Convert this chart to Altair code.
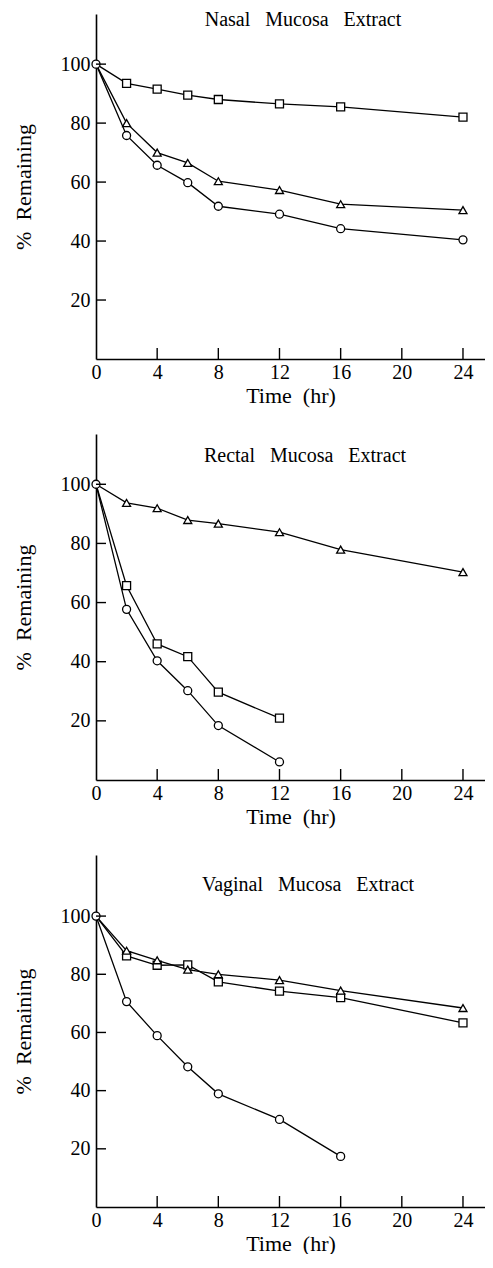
import altair as alt
import pandas as pd

# ---------------- data ----------------
X_TICKS = [4, 8, 12, 16, 20, 24]
X_LABELS = [0, 4, 8, 12, 16, 20, 24]
Y_TICKS = [20, 40, 60, 80, 100]

# Nasal mucosa extract
nasal_t_A = [0, 2, 4, 6, 8, 12, 16, 24]
nasal_A = [100, 75.8, 65.7, 59.8, 51.8, 49.1, 44.2, 40.4]      # circles
nasal_t_B = [0, 2, 4, 6, 8, 12, 16, 24]
nasal_B = [100, 93.5, 91.5, 89.5, 88.0, 86.5, 85.5, 82.0]      # squares
nasal_t_C = [0, 2, 4, 6, 8, 12, 16, 24]
nasal_C = [100, 80.0, 70.0, 66.5, 60.3, 57.3, 52.5, 50.5]      # triangles

# Rectal mucosa extract
rectal_t_A = [0, 2, 4, 6, 8, 12]
rectal_A = [100, 57.7, 40.3, 30.2, 18.4, 6.1]
rectal_t_B = [0, 2, 4, 6, 8, 12]
rectal_B = [100, 65.7, 46.0, 41.7, 29.7, 20.9]
rectal_t_C = [0, 2, 4, 6, 8, 12, 16, 24]
rectal_C = [100, 93.7, 91.9, 87.9, 86.7, 83.8, 77.9, 70.3]

# Vaginal mucosa extract
vaginal_t_A = [0, 2, 4, 6, 8, 12, 16]
vaginal_A = [100, 70.6, 58.9, 48.2, 38.9, 30.1, 17.4]
vaginal_t_B = [0, 2, 4, 6, 8, 12, 16, 24]
vaginal_B = [100, 86.3, 83.1, 83.2, 77.4, 74.2, 72.0, 63.3]
vaginal_t_C = [0, 2, 4, 6, 8, 12, 16, 24]
vaginal_C = [100, 88.1, 84.8, 81.6, 80.0, 78.0, 74.4, 68.4]

PANEL_TITLES = ["Nasal   Mucosa   Extract", "Rectal   Mucosa   Extract",
                "Vaginal   Mucosa   Extract"]
X_TITLE = "Time  (hr)"
Y_TITLE = "%  Remaining"

SERIES = ["A", "B", "C"]
SHAPES = ["circle", "square", "triangle-up"]

FONT = "Liberation Serif"
W = 389
XMAX = 25.44


def make_df(tA, A, tB, B, tC, C):
    rows = []
    for s, ts, vs in (("A", tA, A), ("B", tB, B), ("C", tC, C)):
        for t, v in zip(ts, vs):
            rows.append({"s": s, "t": t, "v": v})
    return pd.DataFrame(rows)


def nb(s):
    return s.replace(" ", "\u00a0")


def panel(df, title, H, ymax, tx, ty):
    xs = alt.Scale(domain=[0, XMAX], nice=False, zero=False)
    ys = alt.Scale(domain=[0, ymax], nice=False, zero=False)
    x = alt.X("t:Q", scale=xs,
              axis=alt.Axis(values=X_LABELS, title=nb(X_TITLE), labelPadding=3,
                            titlePadding=3, labelFlush=False))
    y = alt.Y("v:Q", scale=ys,
              axis=alt.Axis(values=Y_TICKS, title=nb(Y_TITLE), labelPadding=6,
                            titlePadding=25))
    base = alt.Chart(df)
    lines = base.mark_line(color="black", strokeWidth=1.3).encode(
        x=x, y=y, detail="s:N")
    pts = base.transform_filter("datum.t > 0 || datum.s == 'A'").mark_point(
        filled=True, fill="white", stroke="black", strokeWidth=1.3, size=64,
        opacity=1).encode(
        x=alt.X("t:Q", scale=xs), y=alt.Y("v:Q", scale=ys),
        shape=alt.Shape("s:N", scale=alt.Scale(domain=SERIES, range=SHAPES),
                        legend=None))
    xt = alt.Chart(pd.DataFrame({"t": X_TICKS})).mark_rule(
        color="black", strokeWidth=1.4).encode(
        x=alt.X("t:Q", scale=xs), y=alt.value(H), y2=alt.value(H - 11))
    yt = alt.Chart(pd.DataFrame({"v": Y_TICKS})).mark_rule(
        color="black", strokeWidth=1.4).encode(
        y=alt.Y("v:Q", scale=ys), x=alt.value(0), x2=alt.value(10))
    ttl = alt.Chart(pd.DataFrame({"t": [0]})).mark_text(
        text=nb(title), font=FONT, fontSize=20, color="black",
        align="center", baseline="middle").encode(
        x=alt.value(tx), y=alt.value(ty))
    return alt.layer(lines, pts, xt, yt, ttl).properties(width=W, height=H)


p1 = panel(make_df(nasal_t_A, nasal_A, nasal_t_B, nasal_B, nasal_t_C, nasal_C),
           PANEL_TITLES[0], 345, 117, 207, 6)
p2 = panel(make_df(rectal_t_A, rectal_A, rectal_t_B, rectal_B, rectal_t_C, rectal_C),
           PANEL_TITLES[1], 346, 117, 209, 22)
p3 = panel(make_df(vaginal_t_A, vaginal_A, vaginal_t_B, vaginal_B, vaginal_t_C, vaginal_C),
           PANEL_TITLES[2], 352, 121, 212, 30)

chart = alt.vconcat(p1, p2, p3, spacing=28).properties(
    padding={"left": 4, "top": 2, "right": 0, "bottom": 0}
).configure_view(stroke=None).configure_axis(
    grid=False, ticks=False, tickSize=0, domainColor="black", domainWidth=1.6,
    labelFont=FONT, labelFontSize=20, labelColor="black",
    titleFont=FONT, titleFontSize=22, titleFontWeight="normal", titleColor="black",
    labelOverlap=False
)

chart.save("out.html", embed_options={"renderer": "svg", "actions": False})
